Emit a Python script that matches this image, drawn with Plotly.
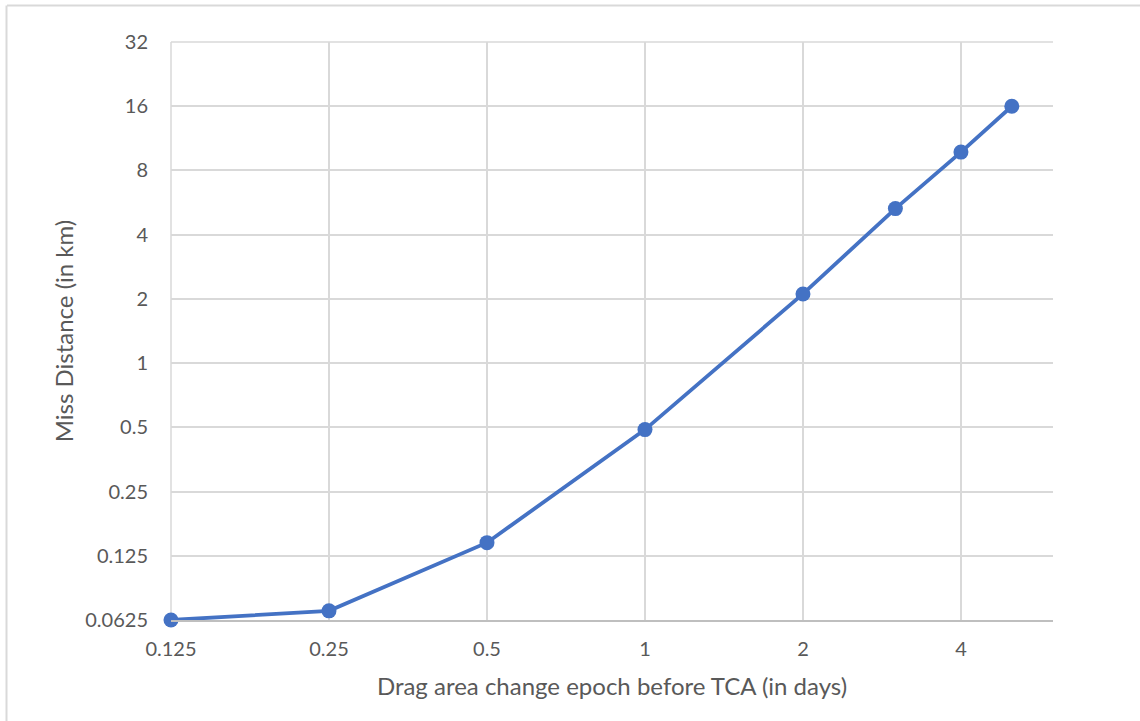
import math
import plotly.graph_objects as go

# Miss distance vs. epoch of drag area change before TCA
epoch_days = [0.125, 0.25, 0.5, 1, 2, 3, 4, 5]
miss_km = [0.0625, 0.069, 0.144, 0.488, 2.11, 5.3, 9.75, 16.0]

x_ticks = [0.125, 0.25, 0.5, 1, 2, 4]
x_tick_text = ["0.125", "0.25", "0.5", "1", "2", "4"]
y_ticks = [0.0625, 0.125, 0.25, 0.5, 1, 2, 4, 8, 16, 32]
y_tick_text = ["0.0625", "0.125", "0.25", "0.5", "1", "2", "4", "8", "16", "32"]

W, H = 1140, 721
L, R, T, B = 171, 87, 42, 101
pw, ph = W - L - R, H - T - B

FONT = "Lato"
TEXT = "#595959"
GRID = "#d9d9d9"
LINE = "#4472c4"

fig = go.Figure()
fig.add_trace(go.Scatter(
    x=epoch_days, y=miss_km, mode="lines+markers",
    line=dict(color=LINE, width=3.8),
    marker=dict(color=LINE, size=15),
    cliponaxis=False, showlegend=False,
))


def px_x(p):
    return (p - L) / pw


def px_y(p):
    return (H - B - p) / ph


# grid lines that sit on the plot-area edges (top and left)
fig.add_shape(type="line", xref="paper", yref="paper", layer="below",
              x0=0, x1=1, y0=1, y1=1, line=dict(color=GRID, width=1.5))
fig.add_shape(type="line", xref="paper", yref="paper", layer="below",
              x0=0, x1=0, y0=0, y1=1, line=dict(color=GRID, width=1.5))

# outer chart frame (top and left edges)
fig.add_shape(type="line", xref="paper", yref="paper",
              x0=px_x(7), x1=px_x(W + 5), y0=px_y(5.5), y1=px_y(5.5),
              line=dict(color="#d9d9d9", width=2))
fig.add_shape(type="line", xref="paper", yref="paper",
              x0=px_x(6.5), x1=px_x(6.5), y0=px_y(5.5), y1=px_y(H + 5),
              line=dict(color="#d9d9d9", width=2))

fig.update_layout(
    width=W, height=H,
    margin=dict(l=L, r=R, t=T, b=B),
    paper_bgcolor="white", plot_bgcolor="white",
    font=dict(family=FONT, color=TEXT, size=20),
    xaxis=dict(
        type="log",
        range=[math.log10(0.125), math.log10(5.99)],
        tickvals=x_ticks, ticktext=x_tick_text,
        showgrid=True, gridcolor=GRID, gridwidth=1.5,
        showline=True, linecolor="#bfbfbf", linewidth=1.5,
        ticks="", zeroline=False,
        tickfont=dict(size=20, color=TEXT),
        ticklabelstandoff=10,
        title=dict(text="Drag area change epoch before TCA (in days)",
                   font=dict(size=24, color=TEXT), standoff=19),
    ),
    yaxis=dict(
        type="log",
        range=[math.log10(0.0625), math.log10(32)],
        tickvals=y_ticks, ticktext=y_tick_text,
        showgrid=True, gridcolor=GRID, gridwidth=1.5,
        showline=False, ticks="", zeroline=False,
        tickfont=dict(size=20, color=TEXT),
        ticklabelstandoff=22,
        title=dict(text="Miss Distance (in km)",
                   font=dict(size=24, color=TEXT), standoff=4),
    ),
)

fig.write_html("out.html")
